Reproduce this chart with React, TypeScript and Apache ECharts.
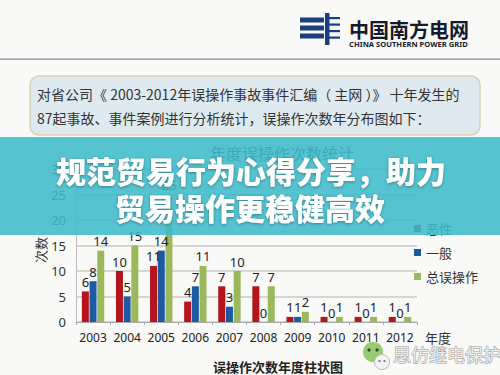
import React, { useEffect, useRef } from "react";
import * as echarts from "echarts";

const years = ["2003", "2004", "2005", "2006", "2007", "2008", "2009", "2010", "2011", "2012"];
const severe = [6, 10, 11, 4, 7, 7, 1, 1, 1, 1];
const general = [8, 5, 14, 7, 3, 0, 1, 0, 0, 0];
const total = [14, 15, 25, 11, 10, 7, 2, 1, 1, 1];
const seriesNames = ["恶性", "一般", "总误操作"];
const yMax = 30;
const yInterval = 5;

const introLine1 = "对省公司《 2003-2012年误操作事故事件汇编（ 主网 ）》 十年发生的";
const introLine2 = "87起事故、事件案例进行分析统计，误操作次数年分布图如下：";
const bannerLine1 = "规范贸易行为心得分享，助力";
const bannerLine2 = "贸易操作更稳健高效";
const chartTitle = "年度误操作次数统计";
const caption = "误操作次数年度柱状图";
const watermark = "思仿继电保护";

const CJK = '"Noto Sans CJK SC", "Noto Sans", sans-serif';
const NUM = '"Noto Sans", "DejaVu Sans", sans-serif';

export default function App() {
  const ref = useRef<HTMLDivElement>(null);
  useEffect(() => {
    document.body.style.margin = "0";
    const chart = echarts.init(ref.current!, null, { renderer: "svg" });
    const label = {
      show: true,
      position: "top",
      distance: 3,
      fontSize: 13,
      color: "#222",
      fontFamily: NUM,
    };
    const navy = "#1b3e7c";
    chart.setOption({
      animation: false,
      backgroundColor: "#f9f9f8",
      textStyle: { fontFamily: CJK },
      grid: { left: 76, right: 83, top: 169, bottom: 53 },
      legend: {
        orient: "vertical",
        left: 409,
        top: 217,
        itemWidth: 7,
        itemHeight: 7,
        itemGap: 11,
        icon: "rect",
        textStyle: { fontSize: 13, color: "#333", fontFamily: CJK },
        data: seriesNames,
      },
      xAxis: {
        type: "category",
        data: years,
        axisLine: { lineStyle: { color: "#aaa" } },
        axisTick: { show: true, length: 3, lineStyle: { color: "#aaa" } },
        axisLabel: { interval: 0, fontSize: 12, color: "#222", margin: 9, fontFamily: NUM },
      },
      yAxis: {
        type: "value",
        min: 0,
        max: yMax,
        interval: yInterval,
        axisLine: { show: true, lineStyle: { color: "#bbb" } },
        axisTick: { show: false },
        axisLabel: { fontSize: 13, color: "#333", margin: 10, fontFamily: NUM },
        splitLine: { lineStyle: { color: "#c9c9c9", width: 1.5 } },
      },
      series: [
        { name: seriesNames[0], type: "bar", data: severe, barWidth: 7, barGap: "10%", itemStyle: { color: "#b5141c" }, label },
        { name: seriesNames[1], type: "bar", data: general, barWidth: 7, barGap: "10%", itemStyle: { color: "#1e5aa2" }, label },
        { name: seriesNames[2], type: "bar", data: total, barWidth: 7, barGap: "10%", itemStyle: { color: "#9bb95a" }, label },
      ],
      graphic: [
        // header line
        { type: "rect", z: 1, shape: { x: 0, y: 58.5, width: 500, height: 1.2 }, style: { fill: "#8a8a8a" } },
        // logo icon
        { type: "rect", z: 1, shape: { x: 300, y: 17.5, width: 24, height: 5 }, style: { fill: navy } },
        { type: "rect", z: 1, shape: { x: 300, y: 25.5, width: 24, height: 5 }, style: { fill: navy } },
        { type: "rect", z: 1, shape: { x: 300, y: 33.5, width: 24, height: 5 }, style: { fill: navy } },
        { type: "rect", z: 1, shape: { x: 325, y: 13, width: 4.5, height: 32 }, style: { fill: navy } },
        { type: "rect", z: 1, shape: { x: 329, y: 17, width: 11, height: 2.2 }, style: { fill: navy } },
        { type: "rect", z: 1, shape: { x: 329, y: 23.5, width: 11, height: 2.2 }, style: { fill: navy } },
        { type: "rect", z: 1, shape: { x: 329, y: 30, width: 11, height: 2.2 }, style: { fill: navy } },
        { type: "rect", z: 1, shape: { x: 329, y: 36.5, width: 11, height: 2.2 }, style: { fill: navy } },
        {
          type: "text", z: 1, x: 349, y: 29,
          style: { text: "中国南方电网", fontSize: 20, fontWeight: "bold", fontFamily: CJK, fill: "#151a2a", align: "left", verticalAlign: "middle" },
        },
        {
          type: "text", z: 1, x: 349, y: 43.5,
          style: { text: "CHINA SOUTHERN POWER GRID", fontSize: 7.6, fontWeight: "bold", fontFamily: NUM, fill: "#151a2a", align: "left", verticalAlign: "middle" },
        },
        // intro box
        {
          type: "rect", z: 1,
          shape: { x: 30, y: 76, width: 450, height: 59, r: 9 },
          style: { fill: "#deeaf0", stroke: "#d8d2b2", lineWidth: 1.5 },
        },
        {
          type: "text", z: 2, x: 37, y: 94,
          style: { text: introLine1, fontSize: 14, fontFamily: CJK, fill: "#333", align: "left", verticalAlign: "middle" },
        },
        {
          type: "text", z: 2, x: 37, y: 118,
          style: { text: introLine2, fontSize: 14, fontFamily: CJK, fill: "#333", align: "left", verticalAlign: "middle" },
        },
        // chart title (under banner)
        {
          type: "text", z: 1, x: 282, y: 153,
          style: { text: chartTitle, fontSize: 16, fontFamily: CJK, fill: "#333", align: "center", verticalAlign: "middle" },
        },
        // y axis name
        {
          type: "text", z: 1, x: 40, y: 250, rotation: Math.PI / 2,
          style: { text: "次数", fontSize: 13, fontFamily: CJK, fill: "#333", align: "center", verticalAlign: "middle" },
        },
        // x axis name
        {
          type: "text", z: 1, x: 438, y: 337,
          style: { text: "年度", fontSize: 13, fontFamily: CJK, fill: "#333", align: "center", verticalAlign: "middle" },
        },
        // banner
        {
          type: "rect", z: 100,
          shape: { x: 0, y: 137, width: 500, height: 98 },
          style: { fill: "rgba(62,187,201,0.88)" },
        },
        {
          type: "text", z: 101, x: 251, y: 170,
          style: {
            text: bannerLine1, fontSize: 30, fontWeight: 900, fontFamily: CJK, fill: "#ffffff",
            align: "center", verticalAlign: "middle",
            textShadowColor: "rgba(0,0,0,0.35)", textShadowBlur: 3, textShadowOffsetX: 0, textShadowOffsetY: 1,
          },
        },
        {
          type: "text", z: 101, x: 250, y: 207,
          style: {
            text: bannerLine2, fontSize: 30, fontWeight: 900, fontFamily: CJK, fill: "#ffffff",
            align: "center", verticalAlign: "middle",
            textShadowColor: "rgba(0,0,0,0.35)", textShadowBlur: 3, textShadowOffsetX: 0, textShadowOffsetY: 1,
          },
        },
        // caption
        {
          type: "text", z: 1, x: 278, y: 366,
          style: { text: caption, fontSize: 13, fontWeight: "bold", fontFamily: CJK, fill: "#222", align: "center", verticalAlign: "middle" },
        },
        // watermark wechat icon
        { type: "circle", z: 5, shape: { cx: 373, cy: 352, r: 10 }, style: { fill: "#86c35a", opacity: 0.85 } },
        { type: "circle", z: 5, shape: { cx: 369, cy: 350, r: 1.6 }, style: { fill: "#2f4a22" } },
        { type: "circle", z: 5, shape: { cx: 377, cy: 350, r: 1.6 }, style: { fill: "#2f4a22" } },
        { type: "circle", z: 6, shape: { cx: 382, cy: 362, r: 7.5 }, style: { fill: "#f2f2f2", stroke: "#bbb", lineWidth: 1 } },
        { type: "circle", z: 6, shape: { cx: 379.5, cy: 361, r: 1.1 }, style: { fill: "#777" } },
        { type: "circle", z: 6, shape: { cx: 384.5, cy: 361, r: 1.1 }, style: { fill: "#777" } },
        {
          type: "text", z: 5, x: 393, y: 354,
          style: { text: watermark, fontSize: 18, fontFamily: CJK, fill: "#ececec", stroke: "#9a9a9a", lineWidth: 1, align: "left", verticalAlign: "middle" },
        },
      ],
    });
    return () => chart.dispose();
  }, []);
  return <div ref={ref} style={{ position: "absolute", left: 0, top: 0, width: 500, height: 375 }} />;
}
